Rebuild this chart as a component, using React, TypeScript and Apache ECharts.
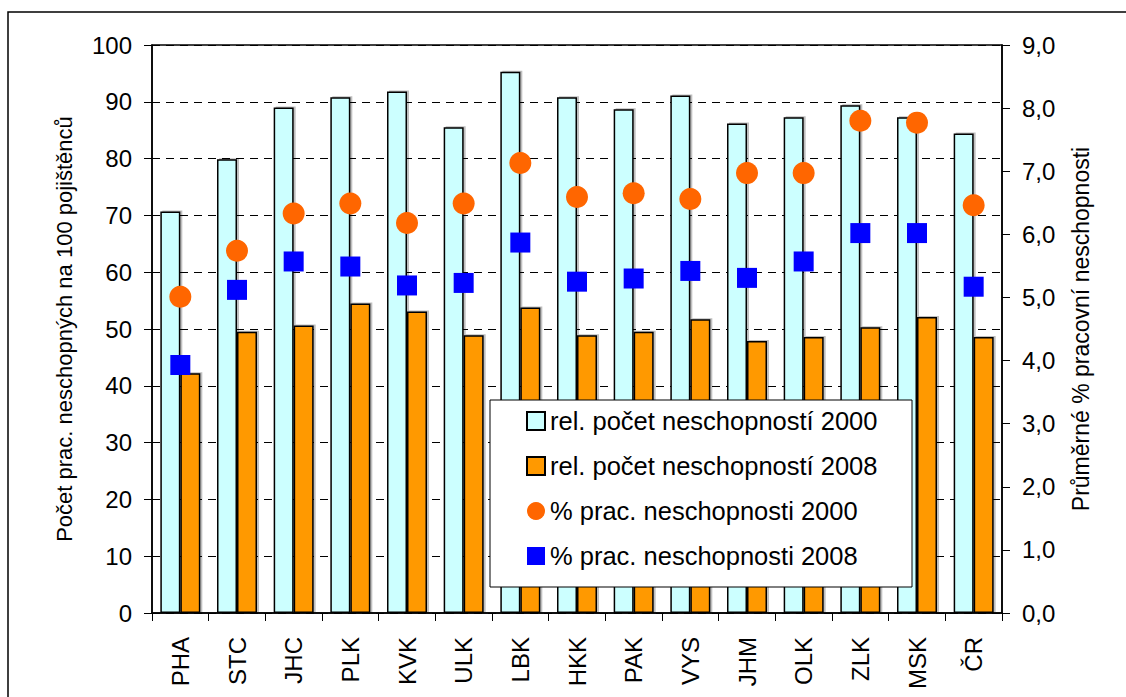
import React, { useEffect, useRef } from "react";
import * as echarts from "echarts";

// Regions (kraje) and Czech Republic total
const regions = ["PHA", "STC", "JHC", "PLK", "KVK", "ULK", "LBK", "HKK", "PAK", "VYS", "JHM", "OLK", "ZLK", "MSK", "ČR"];

// Relative count of sick leaves per 100 insured persons
const relCount2000 = [70.7, 79.9, 89.0, 90.8, 91.8, 85.5, 95.3, 90.8, 88.7, 91.1, 86.2, 87.3, 89.4, 87.3, 84.4];
const relCount2008 = [42.2, 49.5, 50.6, 54.5, 53.1, 48.9, 53.8, 48.9, 49.5, 51.7, 47.9, 48.6, 50.3, 52.1, 48.6];

// Average percentage of sick leave
const pct2000 = [5.01, 5.74, 6.33, 6.49, 6.18, 6.49, 7.13, 6.59, 6.65, 6.56, 6.97, 6.97, 7.8, 7.77, 6.46];
const pct2008 = [3.93, 5.12, 5.57, 5.49, 5.19, 5.23, 5.87, 5.25, 5.3, 5.42, 5.31, 5.57, 6.02, 6.02, 5.17];

const names = [
  "rel. počet neschopností 2000",
  "rel. počet neschopností 2008",
  "% prac. neschopnosti 2000",
  "% prac. neschopnosti 2008",
];

const FONT = "'Liberation Sans', Arial, sans-serif";

export default function App() {
  const ref = useRef<HTMLDivElement>(null);

  useEffect(() => {
    if (!ref.current) return;
    const chart = echarts.init(ref.current, null, { renderer: "svg" });
    const barShadow = {
      shadowColor: "rgba(0,0,0,0.25)",
      shadowOffsetX: 2,
      shadowOffsetY: -1,
      shadowBlur: 0,
    };
    chart.setOption({
      animation: false,
      backgroundColor: "#fff",
      textStyle: { fontFamily: FONT },
      grid: {
        left: 152,
        right: 124,
        top: 45,
        bottom: 84,
        show: true,
        borderColor: "#000",
        borderWidth: 1.5,
      },
      graphic: [
        {
          type: "rect",
          z: -10,
          shape: { x: 8, y: 12, width: 1300, height: 900 },
          style: { fill: "none", stroke: "#000", lineWidth: 1.5 },
        },
        {
          type: "rect",
          z: 30,
          shape: { x: 490, y: 400, width: 422, height: 187 },
          style: { fill: "#fff", stroke: "#000", lineWidth: 1 },
        },
      ],
      legend: {
        z: 40,
        orient: "vertical",
        left: 526,
        top: 408,
        itemWidth: 18,
        itemHeight: 18,
        itemGap: 19,
        padding: 0,
        textStyle: { fontSize: 25.5, color: "#000", fontFamily: FONT },
        data: [
          { name: names[0], icon: "rect" },
          { name: names[1], icon: "rect" },
          { name: names[2], icon: "circle" },
          { name: names[3], icon: "rect" },
        ],
      },
      xAxis: {
        type: "category",
        data: regions,
        axisLine: { lineStyle: { color: "#000", width: 1.5 } },
        axisTick: { show: true, length: 8, lineStyle: { color: "#000" } },
        axisLabel: {
          rotate: 90,
          margin: 24,
          fontSize: 24,
          color: "#000",
          fontFamily: FONT,
          interval: 0,
        },
      },
      yAxis: [
        {
          type: "value",
          min: 0,
          max: 100,
          interval: 10,
          name: "Počet prac. neschopných na 100 pojištěnců",
          nameLocation: "middle",
          nameRotate: 90,
          nameGap: 77,
          nameTextStyle: { fontSize: 22, color: "#000", fontFamily: FONT },
          axisLine: { show: true, lineStyle: { color: "#000", width: 1.5 } },
          axisTick: { show: true, length: 8, lineStyle: { color: "#000" } },
          axisLabel: { fontSize: 24, color: "#000", margin: 20, fontFamily: FONT },
          splitLine: { show: true, lineStyle: { color: "#000", width: 1, type: [8, 6] } },
        },
        {
          type: "value",
          min: 0,
          max: 9,
          interval: 1,
          position: "right",
          name: "Průměrné % pracovní neschopnosti",
          nameLocation: "middle",
          nameRotate: 90,
          nameGap: 67,
          nameTextStyle: { fontSize: 23, color: "#000", fontFamily: FONT },
          axisLine: { show: true, lineStyle: { color: "#000", width: 1.5 } },
          axisTick: { show: true, length: 8, lineStyle: { color: "#000" } },
          axisLabel: {
            fontSize: 24,
            color: "#000",
            margin: 20,
            fontFamily: FONT,
            formatter: (v: number) => v.toFixed(1).replace(".", ","),
          },
          splitLine: { show: false },
        },
      ],
      series: [
        {
          name: names[0],
          type: "bar",
          data: relCount2000,
          barWidth: 20,
          barGap: "0%",
          itemStyle: { color: "#CCFFFF", borderColor: "#000", borderWidth: 1.5, ...barShadow },
        },
        {
          name: names[1],
          type: "bar",
          data: relCount2008,
          barWidth: 20,
          barGap: "0%",
          itemStyle: { color: "#FF9900", borderColor: "#000", borderWidth: 1.5, ...barShadow },
        },
        {
          name: names[2],
          type: "scatter",
          yAxisIndex: 1,
          data: pct2000,
          symbol: "circle",
          symbolSize: 22,
          z: 5,
          itemStyle: { color: "#FF6600", opacity: 1 },
        },
        {
          name: names[3],
          type: "scatter",
          yAxisIndex: 1,
          data: pct2008,
          symbol: "rect",
          symbolSize: 20,
          z: 5,
          itemStyle: { color: "#0000FF", opacity: 1 },
        },
      ],
    });
    return () => chart.dispose();
  }, []);

  return (
    <div
      ref={ref}
      style={{ position: "fixed", left: 0, top: 0, width: 1126, height: 697 }}
    />
  );
}
